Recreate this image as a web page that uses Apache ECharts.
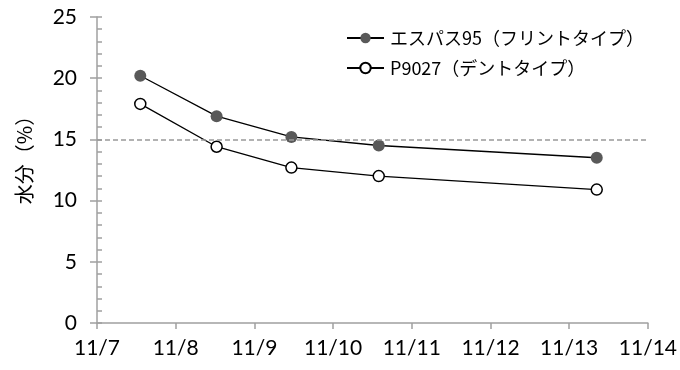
<!DOCTYPE html>
<html>
<head>
<meta charset="utf-8">
<script src="https://cdn.jsdelivr.net/npm/echarts@6/dist/echarts.min.js"></script>
<style>
  html, body { margin: 0; padding: 0; background: #fff; }
  #chart { width: 680px; height: 370px; }
</style>
</head>
<body>
<div id="chart"></div>
<script>
// Sampling times, as day-of-month in November (fractional day = time of day)
const sampleDays = [7.55, 8.52, 9.47, 10.58, 13.35];
// Grain moisture (%) per hybrid
const flintMoisture = [20.2, 16.9, 15.2, 14.5, 13.5];
const dentMoisture = [17.9, 14.4, 12.7, 12.0, 10.9];
const seriesNames = ['エスパス95（フリントタイプ）', 'P9027（デントタイプ）'];
// Date axis tick labels, 11/7 .. 11/14
const xTickLabels = ['11/7', '11/8', '11/9', '11/10', '11/11', '11/12', '11/13', '11/14'];
const yAxisTitle = '水分（%）';
const harvestLine = 15;

const latin = 'Lato, "Noto Sans", sans-serif';
const cjk = '"Noto Sans CJK JP", sans-serif';
const axisGray = '#a0a0a0';

const chart = echarts.init(document.getElementById('chart'), null, { renderer: 'canvas' });

const pairs = (vals) => sampleDays.map((d, i) => [d, vals[i]]);

chart.setOption({
  animation: false,
  backgroundColor: '#fff',
  grid: { left: 97, right: 31, top: 17, bottom: 47, containLabel: false },
  legend: {
    orient: 'vertical',
    left: 341,
    top: 24,
    itemWidth: 37,
    itemHeight: 13,
    itemGap: 12,
    textStyle: { fontFamily: cjk, fontSize: 18, color: '#000', padding: [0, 0, 0, 1] },
    data: seriesNames
  },
  graphic: [{
    type: 'text',
    x: 24,
    y: 155,
    rotation: Math.PI / 2,
    style: {
      text: yAxisTitle,
      fontFamily: cjk,
      fontSize: 20,
      fill: '#000',
      align: 'center',
      verticalAlign: 'middle'
    }
  }],
  xAxis: {
    type: 'value',
    min: 7,
    max: 14,
    interval: 1,
    axisLine: { lineStyle: { color: axisGray, width: 1.5 } },
    axisTick: { show: true, length: 6, lineStyle: { color: axisGray, width: 1.5 } },
    splitLine: { show: false },
    axisLabel: {
      margin: 15,
      fontFamily: latin,
      fontSize: 21,
      color: '#000',
      formatter: (v) => xTickLabels[Math.round(v) - 7]
    }
  },
  yAxis: [{
    type: 'value',
    min: 0,
    max: 25,
    interval: 5,
    axisLine: { show: true, lineStyle: { color: axisGray, width: 1.5 } },
    axisTick: { show: true, length: 7, lineStyle: { color: axisGray, width: 1.5 } },
    splitLine: { show: false },
    axisLabel: { margin: 20, fontFamily: latin, fontSize: 21, color: '#000' }
  }, {
    // companion axis: minor ticks pointing into the plot
    type: 'value',
    position: 'left',
    offset: 0,
    min: 0,
    max: 25,
    interval: 5,
    axisLine: { show: false },
    axisTick: { show: true, inside: true, length: 5, lineStyle: { color: axisGray, width: 1.5 } },
    minorTick: { show: true, splitNumber: 5, length: 5, lineStyle: { color: axisGray, width: 1.5 } },
    splitLine: { show: false },
    axisLabel: { show: false }
  }],
  series: [{
    name: seriesNames[0],
    type: 'line',
    data: pairs(flintMoisture),
    symbol: 'circle',
    symbolSize: 12,
    lineStyle: { color: '#000', width: 1.3 },
    itemStyle: { color: '#595959', borderWidth: 0 },
    markLine: {
      silent: true,
      symbol: ['none', 'none'],
      label: { show: false },
      lineStyle: { color: '#999', type: [5, 3], width: 1.5 },
      data: [{ yAxis: harvestLine }]
    },
    z: 3
  }, {
    name: seriesNames[1],
    type: 'line',
    data: pairs(dentMoisture),
    symbol: 'circle',
    symbolSize: 11,
    lineStyle: { color: '#000', width: 1.3 },
    itemStyle: { color: '#fff', borderColor: '#000', borderWidth: 1.5 },
    z: 3
  }]
});
</script>
</body>
</html>
